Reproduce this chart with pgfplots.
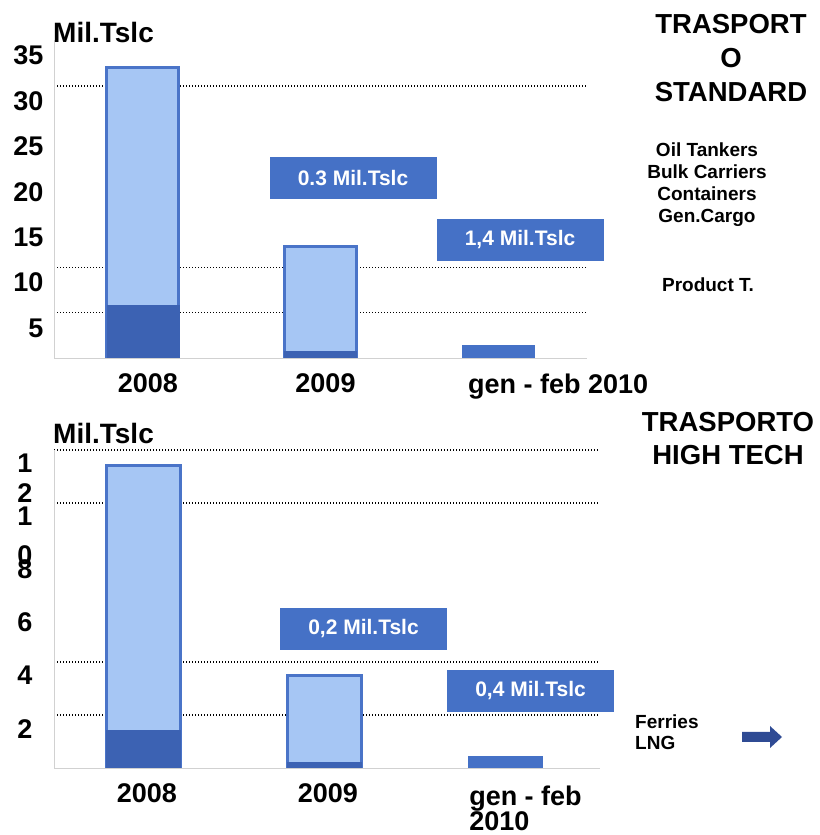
\documentclass[border=0pt]{standalone}
\usepackage{fontspec}
\setmainfont{Liberation Sans}
\usepackage{pgfplots}
\pgfplotsset{compat=1.18}

\definecolor{lightbar}{HTML}{A6C6F4}
\definecolor{edgeblue}{HTML}{4A74C8}
\definecolor{darkbar}{HTML}{3C62B3}
\definecolor{boxblue}{HTML}{4571C6}
\definecolor{arrowblue}{HTML}{2F4B94}

\newcommand\fs[2]{\fontsize{#1bp}{#2bp}\selectfont\bfseries}
% second digit hung below the first, as the wrapped labels of the slide
\newcommand\stk[3]{#1\llap{\raisebox{-#3}[0pt][0pt]{#2}}}

\pgfplotsset{
  panel/.style={
    scale only axis, anchor=south west, clip=false,
    axis line style={draw=none},
    major tick length=0pt,
    xtick={0,1,2},
    /pgf/number format/assume math mode=true,
    tick label style={font=\fs{27}{32}},
    yticklabel style={anchor=base east, xshift=-7bp, yshift=-24.5bp},
    xticklabel style={xshift=5bp, yshift=-12bp},
    extra y tick labels={},
    extra y tick style={grid=major,
      major grid style={black, line width=1.4bp, dash pattern=on 1.4bp off 1.6bp}},
  },
  light/.style={ybar, bar shift=0pt, fill=lightbar, draw=edgeblue, line width=2.8bp},
  dark/.style={ybar, bar shift=0pt, fill=darkbar, draw=darkbar, line width=0.5bp},
  mid/.style={ybar, bar shift=0pt, fill=boxblue, draw=boxblue, line width=0.5bp},
}
\tikzset{
  tag/.style={fill=boxblue, text=white, minimum width=167bp, minimum height=42bp,
    inner sep=0pt, font=\fs{21}{25}},
}

\begin{document}
\begin{tikzpicture}
\useasboundingbox (0,0) rectangle (820bp,835bp);

% ---- trasporto standard
\begin{axis}[panel, at={(54bp,477bp)}, width=533bp, height=317.5bp,
    xmin=-0.5, xmax=2.5, ymin=0, ymax=35,
    ytick={5,10,...,35},
    extra y ticks={5,10,30},
    xticklabels={2008,2009,\hspace*{110bp}gen - feb 2010}]
  \addplot[light, bar width=72bp] coordinates {(0,32) (1,12.3)};
  \addplot[dark, bar width=72bp] coordinates {(0,5.8) (1,0.7)};
  \addplot[mid, bar width=72bp] coordinates {(2,1.4)};
  \draw[black!18, line width=0.8bp] (rel axis cs:0,1) -- (rel axis cs:0,0) -- (rel axis cs:1,0);
\end{axis}

% ---- trasporto high tech
\begin{axis}[panel, at={(54bp,67bp)}, width=546bp, height=318bp,
    xmin=-0.494, xmax=2.522, ymin=0, ymax=12,
    ytick={2,4,...,12},
    yticklabels={2,4,6,8,\stk{1}{0}{39bp},\stk{1}{2}{30bp}},
    yticklabel style={xshift=-11bp, yshift=1.5bp},
    extra y ticks={2,4,10,12},
    xticklabel style={xshift=-1.5bp},
    xticklabels={2008,2009,{\hspace*{33bp}\begin{tabular}[t]{@{}l@{}}gen - feb\\[-7bp]2010\end{tabular}}}]
  \addplot[light, bar width=74bp] coordinates {(0,11.4) (1,3.5)};
  \addplot[dark, bar width=74bp] coordinates {(0,1.43) (1,0.2)};
  \addplot[mid, bar width=74bp] coordinates {(2,0.45)};
  \draw[black!18, line width=0.8bp] (rel axis cs:0,1) -- (rel axis cs:0,0) -- (rel axis cs:1,0);
\end{axis}

% units
\node[anchor=west, inner sep=0pt, font=\fs{28}{32}] at (53bp,802bp) {Mil.Tslc};
\node[anchor=west, inner sep=0pt, font=\fs{28}{32}] at (53bp,402bp) {Mil.Tslc};

% value tags
\node[tag] at (353bp,657bp) {0.3 Mil.Tslc};
\node[tag] at (520bp,595bp) {1,4 Mil.Tslc};
\node[tag] at (363.5bp,206bp) {0,2 Mil.Tslc};
\node[tag] at (530.5bp,144bp) {0,4 Mil.Tslc};

% side texts
\node[align=center, inner sep=0pt, font=\fs{27.5}{34}] at (731bp,777bp) {TRASPORT\\O\\STANDARD};
\node[align=center, inner sep=0pt, font=\fs{19}{22}] at (707bp,650bp) {Oil Tankers\\Bulk Carriers\\Containers\\Gen.Cargo};
\node[inner sep=0pt, font=\fs{19}{22}] at (708bp,550bp) {Product T.};
\node[align=center, inner sep=0pt, font=\fs{27.5}{33}] at (728bp,396.5bp) {TRASPORTO\\HIGH TECH};
\node[align=left, anchor=west, inner sep=0pt, font=\fs{19}{21}] at (635bp,102.5bp) {Ferries\\LNG};
\fill[arrowblue] (742bp,93bp) -- (770bp,93bp) -- (770bp,87bp) -- (782bp,98bp)
  -- (770bp,109bp) -- (770bp,103bp) -- (742bp,103bp) -- cycle;
\end{tikzpicture}
\end{document}
